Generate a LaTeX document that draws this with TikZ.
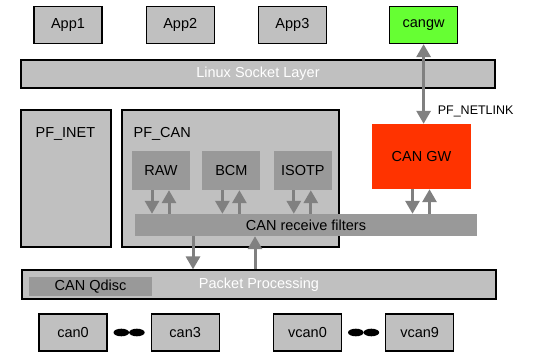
\documentclass[tikz,border=0pt]{standalone}
\usepackage{fontspec}
\setmainfont{Liberation Sans}
\usetikzlibrary{positioning,arrows.meta,calc}
\definecolor{boxgray}{HTML}{C0C0C0}
\definecolor{protogray}{HTML}{999999}
\definecolor{arrowgray}{HTML}{808080}
\definecolor{gwgreen}{HTML}{66FF33}
\definecolor{gwred}{HTML}{FF3300}

\begin{document}
\begin{tikzpicture}[
  x=1pt,y=-1pt,
  font=\fontsize{14.5}{17}\selectfont,
  box/.style={draw=black,line width=1.2pt,fill=boxgray,minimum width=68pt,minimum height=37pt,inner sep=0pt},
  layer/.style={draw=black,line width=1.2pt,fill=boxgray,minimum width=474pt,minimum height=28pt,text=white,inner sep=0pt},
  family/.style={draw=black,line width=1.2pt,fill=boxgray,minimum height=137pt,inner sep=0pt},
  proto/.style={fill=protogray,minimum width=58pt,minimum height=39pt,inner sep=0pt},
  lbl/.style={anchor=base west,inner sep=0pt},
  arr/.style={-{Triangle[width=14pt,length=13pt]},line width=3pt,arrowgray},
  dbl/.style={{Triangle[width=14pt,length=13pt]}-{Triangle[width=14pt,length=13pt]},line width=3pt,arrowgray}
]
\useasboundingbox (0,0) rectangle (540,352);
% applications
\node[box] (app1) at (68,25) {App1};
\node[box,right=43pt of app1] (app2) {App2};
\node[box,right=43pt of app2] (app3) {App3};
\node[box,fill=gwgreen,right=62pt of app3] (cangw) {cangw};
% protocol families
\node[family,minimum width=90pt] (inet) at (66,178.5) {};
\node[family,minimum width=217pt] (pfcan) at (230.5,178.5) {};
\node[lbl] (inetlbl) at ([xshift=15pt,yshift=-28pt]inet.north west) {PF\_INET};
\node[lbl] (pfcanlbl) at ([xshift=12pt,yshift=-28pt]pfcan.north west) {PF\_CAN};
\node[proto] (raw) at (161,170.5) {RAW};
\node[proto,right=12pt of raw] (bcm) {BCM};
\node[proto,right=13pt of bcm] (isotp) {ISOTP};
\node[fill=gwred,minimum width=99pt,minimum height=65pt,inner sep=0pt] (gw) at (421.5,156.5) {CAN GW};
\node[fill=protogray,minimum width=342pt,minimum height=22pt,inner sep=0pt] (filt) at (306,225) {CAN receive filters};
% layers
\node[layer] (sock) at (258,74) {Linux Socket Layer};
\node[layer,minimum height=29pt] (pkt) at (259,284.5) {Packet Processing};
\node[fill=protogray,minimum width=123pt,minimum height=19pt,inner sep=0pt] (qdisc) at (90.5,286.5) {CAN Qdisc};
% devices
\node[box] (can0) at (73,332.5) {can0};
\node[box,right=43pt of can0] (can3) {can3};
\node[box] (vcan0) at (307.5,332.5) {vcan0};
\node[box,right=43pt of vcan0] (vcan9) {vcan9};
\coordinate (dotsa) at ($(can0.east)!.5!(can3.west)$);
\coordinate (dotsb) at ($(vcan0.east)!.5!(vcan9.west)$);
\foreach \d in {dotsa,dotsb} {
  \fill ([xshift=-7.8pt]\d) ellipse (7.8pt and 3.8pt);
  \fill ([xshift=7.8pt]\d) ellipse (7.8pt and 3.8pt);
}
% arrows
\foreach \p in {raw,bcm,isotp,gw} {
  \draw[arr] ([xshift=-9pt]\p.south) -- ([xshift=-9pt]\p.south |- filt.north);
  \draw[arr] ([xshift=8pt]\p.south |- filt.north) -- ([xshift=8pt]\p.south);
}
\draw[arr] ([xshift=-113pt]filt.south) -- ([xshift=-113pt]filt.south |- pkt.north);
\draw[arr] ([xshift=-51pt]filt.south |- pkt.north) -- ([xshift=-51pt]filt.south);
\draw[dbl] (cangw.south) -- (cangw.south |- gw.north);
\node[anchor=west,inner sep=0pt,font=\fontsize{12.5}{15}\selectfont] (netlink) at ([xshift=14pt]$(cangw.south)!.84!(cangw.south |- gw.north)$) {PF\_NETLINK};
\end{tikzpicture}
\end{document}
